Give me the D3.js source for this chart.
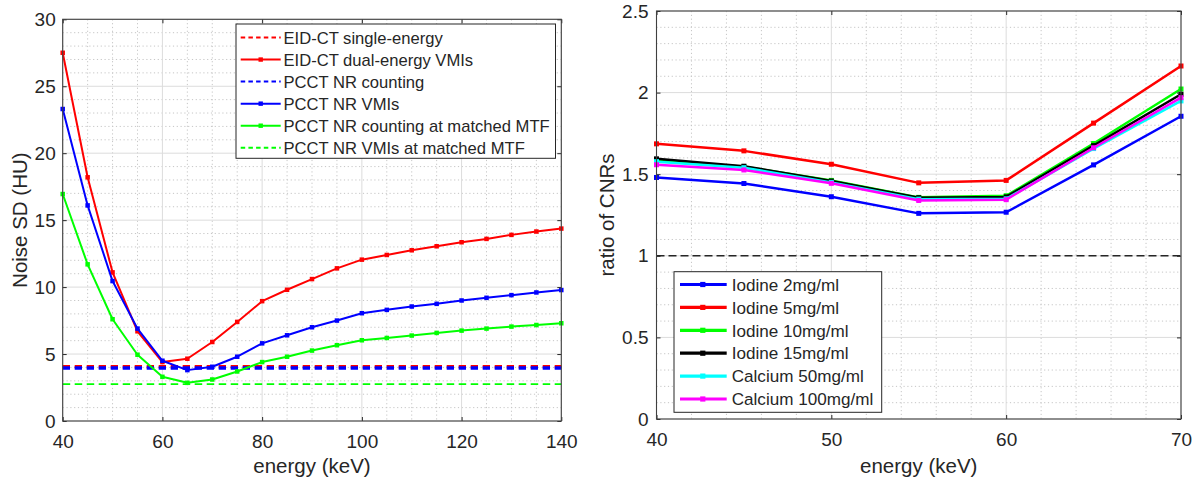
<!DOCTYPE html>
<html><head><meta charset="utf-8">
<script src="https://cdn.jsdelivr.net/npm/d3@7"></script>
<style>
body{margin:0;background:#fff}
svg{display:block}
text{font-family:Arial,"Liberation Sans",sans-serif;fill:#262626}
</style>
</head><body>
<svg id="c" width="1195" height="482"></svg>
<script>
// ---------- Left panel data ----------
const energyLeft = [40,45,50,55,60,65,70,75,80,85,90,95,100,105,110,115,120,125,130,135,140];
const eidDualVMI = [27.5,18.2,11.1,6.7,4.4,4.65,5.9,7.4,8.95,9.8,10.6,11.4,12.05,12.4,12.75,13.05,13.35,13.6,13.9,14.15,14.37];
const pcctVMI = [23.3,16.1,10.45,6.9,4.5,3.8,4.05,4.8,5.8,6.4,7.0,7.5,8.05,8.3,8.55,8.75,9.0,9.2,9.4,9.6,9.78];
const pcctCountMTF = [16.95,11.7,7.6,4.95,3.3,2.85,3.1,3.7,4.4,4.8,5.26,5.66,6.03,6.2,6.38,6.58,6.75,6.9,7.05,7.17,7.3];
const eidSingle = 4.05;
const pcctCount = 3.95;
const pcctVMIMTF = 2.75;
const leftLegend = ["EID-CT single-energy","EID-CT dual-energy VMIs","PCCT NR counting","PCCT NR VMIs","PCCT NR counting at matched MTF","PCCT NR VMIs at matched MTF"];
const leftXTicks = [40,60,80,100,120,140];
const leftYTicks = [0,5,10,15,20,25,30];

// ---------- Right panel data ----------
const energyRight = [40,45,50,55,60,65,70];
const iodine2 = [1.48,1.443,1.362,1.26,1.267,1.557,1.855];
const iodine5 = [1.686,1.643,1.561,1.447,1.462,1.813,2.163];
const iodine10 = [1.585,1.546,1.462,1.358,1.368,1.688,2.022];
const iodine15 = [1.594,1.549,1.458,1.356,1.361,1.675,1.99];
const calcium50 = [1.577,1.54,1.45,1.347,1.349,1.657,1.949];
const calcium100 = [1.558,1.526,1.444,1.339,1.344,1.662,1.969];
const rightLegend = ["Iodine 2mg/ml","Iodine 5mg/ml","Iodine 10mg/ml","Iodine 15mg/ml","Calcium 50mg/ml","Calcium 100mg/ml"];
const rightXTicks = [40,50,60,70];
const rightYTicks = [0,0.5,1,1.5,2,2.5];
const referenceRatio = 1;

const svg = d3.select("#c");
const AX = "#262626";

function panel(o){
  const g = svg.append("g");
  const x = d3.scaleLinear().domain(o.xd).range(o.xr);
  const y = d3.scaleLinear().domain(o.yd).range(o.yr);
  const [x0,x1] = o.xr, [y0,y1] = [o.yr[1], o.yr[0]];
  // minor grid
  const mg = g.append("g").attr("stroke","#c6c6c6").attr("stroke-width",1).attr("stroke-dasharray","1.2,2.6");
  d3.range(o.xd[0], o.xd[1]+1e-9, o.xMinor).forEach(v=>{
    if (o.xTicks.some(t=>Math.abs(t-v)<1e-9)) return;
    mg.append("line").attr("x1",x(v)).attr("x2",x(v)).attr("y1",y0).attr("y2",y1);
  });
  d3.range(o.yd[0], o.yd[1]+1e-9, o.yMinor).forEach(v=>{
    if (o.yTicks.some(t=>Math.abs(t-v)<1e-9)) return;
    mg.append("line").attr("y1",y(v)).attr("y2",y(v)).attr("x1",x0).attr("x2",x1);
  });
  // major grid
  const jg = g.append("g").attr("stroke","#dcdcdc").attr("stroke-width",1);
  o.xTicks.forEach(v=>jg.append("line").attr("x1",x(v)).attr("x2",x(v)).attr("y1",y0).attr("y2",y1));
  o.yTicks.forEach(v=>jg.append("line").attr("y1",y(v)).attr("y2",y(v)).attr("x1",x0).attr("x2",x1));
  return {g,x,y,x0,x1,y0,y1};
}

function frame(p,o){
  const {g,x,y,x0,x1,y0,y1} = p;
  const ax = d3.axisBottom(x).tickValues(o.xTicks).tickSizeInner(-4).tickSizeOuter(0).tickPadding(13.5).tickFormat(d3.format("~g"));
  const ga = g.append("g").attr("transform",`translate(0,${y1})`).call(ax);
  const ay = d3.axisLeft(y).tickValues(o.yTicks).tickSizeInner(-4).tickSizeOuter(0).tickPadding(o.ypad).tickFormat(d3.format("~g"));
  const gb = g.append("g").attr("transform",`translate(${x0},0)`).call(ay);
  const axTop = d3.axisTop(x).tickValues(o.xTicks).tickSizeInner(-4).tickSizeOuter(0).tickFormat("");
  const gc = g.append("g").attr("transform",`translate(0,${y0})`).call(axTop);
  const axR = d3.axisRight(y).tickValues(o.yTicks).tickSizeInner(-4).tickSizeOuter(0).tickFormat("");
  const gd = g.append("g").attr("transform",`translate(${x1},0)`).call(axR);
  [ga,gb,gc,gd].forEach(s=>{
    s.select(".domain").remove();
    s.selectAll("line").attr("stroke",AX);
    s.selectAll("text").attr("font-size",19).attr("fill",AX).style("font-family","Arial, 'Liberation Sans', sans-serif");
  });
  g.append("rect").attr("x",x0).attr("y",y0).attr("width",x1-x0).attr("height",y1-y0)
    .attr("fill","none").attr("stroke","#404040").attr("stroke-width",1.1);
  g.append("text").attr("x",(x0+x1)/2).attr("y",473).attr("text-anchor","middle").attr("font-size",20.5).text("energy (keV)");
  g.append("text").attr("transform",`translate(${o.ylabX},${(y0+y1)/2}) rotate(-90)`).attr("text-anchor","middle").attr("font-size",20.5).text(o.ylab);
}

function series(p, xs, ys, color, w, ms){
  const line = d3.line().x((d,i)=>p.x(xs[i])).y(d=>p.y(d));
  p.g.append("path").datum(ys).attr("d",line).attr("fill","none").attr("stroke",color).attr("stroke-width",w).attr("stroke-linejoin","round");
  p.g.append("g").selectAll("rect").data(ys).join("rect")
    .attr("x",(d,i)=>p.x(xs[i])-ms/2).attr("y",d=>p.y(d)-ms/2).attr("width",ms).attr("height",ms).attr("fill",color);
}
function hline(p, v, color, w, dash){
  p.g.append("line").attr("x1",p.x0).attr("x2",p.x1).attr("y1",p.y(v)).attr("y2",p.y(v))
    .attr("stroke",color).attr("stroke-width",w).attr("stroke-dasharray",dash);
}

// ---------- LEFT ----------
const oL = {xd:[40,140], xr:[62.7,561.3], yd:[0,30], yr:[421,19.3], xTicks:leftXTicks, yTicks:leftYTicks, xMinor:5, yMinor:1, ypad:7, ylab:"Noise SD (HU)", ylabX:27};
const L = panel(oL);
hline(L, eidSingle, "#ff0000", 3.5, "7.3,4.7");
hline(L, pcctCount, "#0000ff", 3.5, "7.3,4.7");
hline(L, pcctVMIMTF, "#00ff00", 1.8, "7.5,4.5");
series(L, energyLeft, eidDualVMI, "#ff0000", 2, 4.5);
series(L, energyLeft, pcctVMI, "#0000ff", 2, 4.5);
series(L, energyLeft, pcctCountMTF, "#00ff00", 2, 4.5);
frame(L, oL);
// legend left
(function(){
  const g = L.g.append("g");
  g.append("rect").attr("x",236).attr("y",24).attr("width",319.5).attr("height",134.3).attr("fill","#fff").attr("stroke",AX).attr("stroke-width",1);
  const styles = [["#ff0000",true],["#ff0000",false],["#0000ff",true],["#0000ff",false],["#00ff00",false],["#00ff00",true]];
  leftLegend.forEach((t,i)=>{
    const yy = 37.5 + i*22.05;
    const [c,dashed] = styles[i];
    g.append("line").attr("x1",240.7).attr("x2",280.7).attr("y1",yy).attr("y2",yy).attr("stroke",c).attr("stroke-width",2)
      .attr("stroke-dasharray",dashed?"4.5,3.2":null);
    if(!dashed) g.append("rect").attr("x",258.5).attr("y",yy-2.2).attr("width",4.4).attr("height",4.4).attr("fill",c);
    g.append("text").attr("x",283.5).attr("y",yy+6).attr("font-size",16.6).text(t);
  });
})();

// ---------- RIGHT ----------
const oR = {xd:[40,70], xr:[656.5,1181], yd:[0,2.5], yr:[419,11], xTicks:rightXTicks, yTicks:rightYTicks, xMinor:2, yMinor:0.1, ypad:8, ylab:"ratio of CNRs", ylabX:614};
const R = panel(oR);
hline(R, referenceRatio, "#262626", 1.4, "8,4");
const rSeries = [[iodine2,"#0000ff"],[iodine5,"#ff0000"],[iodine10,"#00ff00"],[iodine15,"#000000"],[calcium50,"#00ffff"],[calcium100,"#ff00ff"]];
rSeries.forEach(([d,c])=>series(R, energyRight, d, c, 2.5, 5));
frame(R, oR);
(function(){
  const g = R.g.append("g");
  g.append("rect").attr("x",674).attr("y",271.7).attr("width",207.7).attr("height",140.6).attr("fill","#fff").attr("stroke",AX).attr("stroke-width",1);
  rightLegend.forEach((t,i)=>{
    const yy = 284.5 + i*22.9;
    const c = rSeries[i][1];
    g.append("line").attr("x1",680).attr("x2",726.7).attr("y1",yy).attr("y2",yy).attr("stroke",c).attr("stroke-width",3.2);
    g.append("rect").attr("x",700.2).attr("y",yy-2.6).attr("width",5.2).attr("height",5.2).attr("fill",c);
    g.append("text").attr("x",731.7).attr("y",yy+6.2).attr("font-size",17.1).text(t);
  });
})();
</script>
</body></html>
